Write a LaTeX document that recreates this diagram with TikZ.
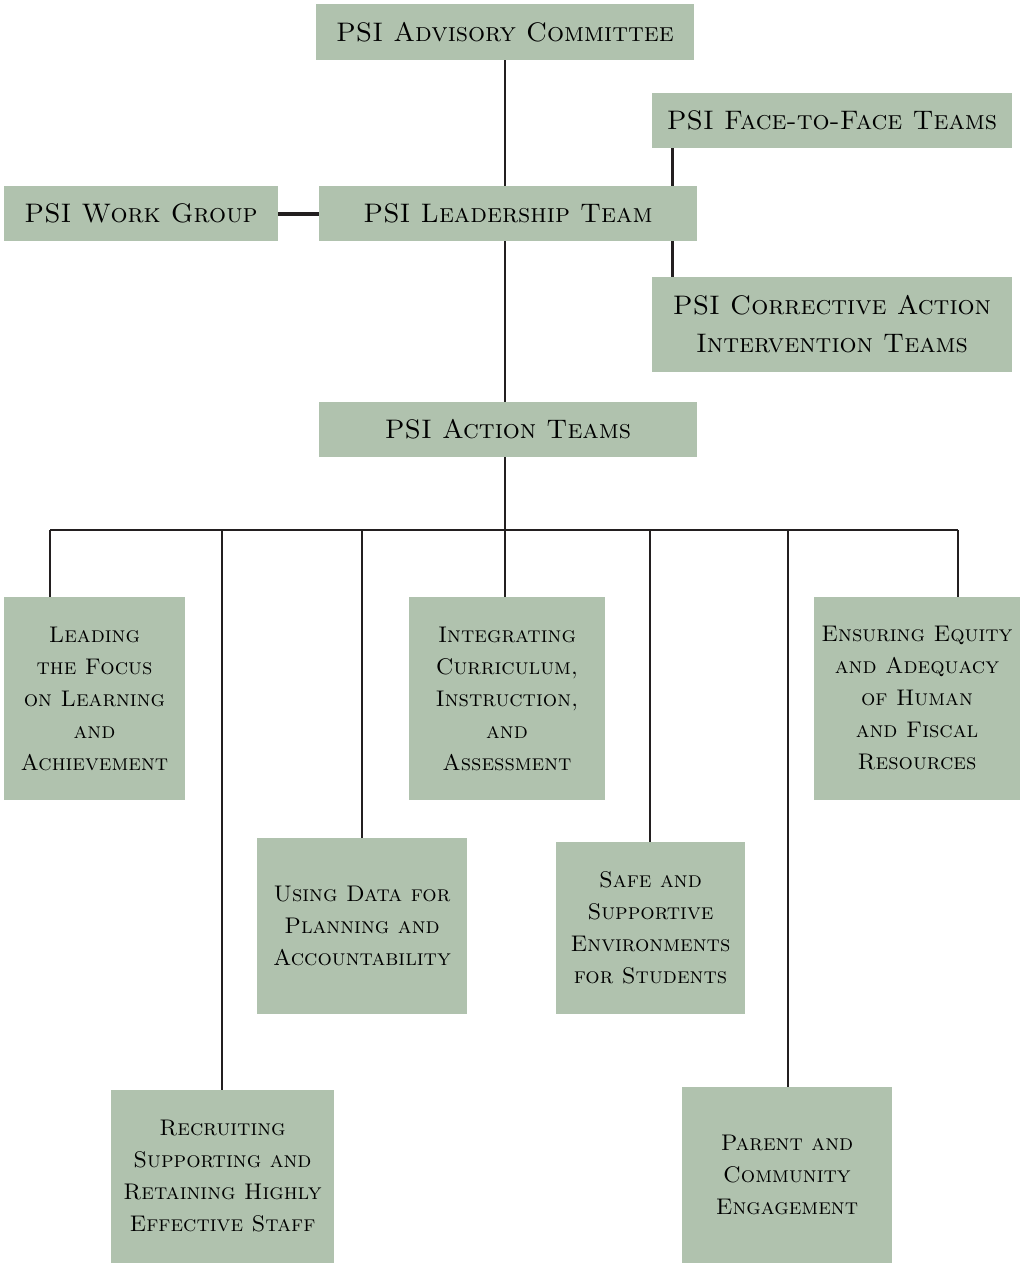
\documentclass[tikz,border=0pt]{standalone}
\usepackage{tikz}
\usetikzlibrary{positioning,calc}
\definecolor{boxfill}{HTML}{B0C2AE}
\definecolor{linegray}{HTML}{231F20}

\begin{document}
\begin{tikzpicture}[
  x=0.5pt, y=-0.5pt,
  team/.style={fill=boxfill, inner sep=0pt, align=center, font=\fontsize{13.4}{19}\selectfont\scshape},
  action/.style={fill=boxfill, inner sep=0pt, align=center, font=\fontsize{11.3}{16}\selectfont\scshape},
  link/.style={draw=linegray, line width=1.3pt}
]
  \useasboundingbox (0,0) rectangle (1021,1264);

  % upper chain
  \node[team, minimum width=189pt, minimum height=28pt] (advisory) at (505,32) {PSI Advisory Committee};
  \node[team, minimum width=189pt, minimum height=27.5pt] (leadership) at (508,213.5) {PSI Leadership Team};
  \node[team, minimum width=137pt, minimum height=27.5pt] (workgroup) at (141,213.5) {PSI Work Group};
  \node[team, minimum width=180pt, minimum height=27.5pt] (facetoface) at (832,120.5) {PSI Face-to-Face Teams};
  \node[team, minimum width=180pt, minimum height=47.5pt] (corrective) at (832,324.5) {PSI Corrective Action\\Intervention Teams};
  \node[team, minimum width=189pt, minimum height=27.5pt] (actionteams) at (508,429.5) {PSI Action Teams};

  % action teams
  \node[action, minimum width=90.5pt, minimum height=101.5pt] (leading) at (94.5,698.5) {Leading\\the Focus\\on Learning\\and\\Achievement};
  \node[action, minimum width=98pt, minimum height=101.5pt] (integrating) at (507,698.5) {Integrating\\Curriculum,\\Instruction,\\and\\Assessment};
  \node[action, minimum width=103pt, minimum height=101.5pt] (ensuring) at (917,698.5) {Ensuring Equity\\and Adequacy\\of Human\\and Fiscal\\Resources};
  \node[action, minimum width=105pt, minimum height=88pt] (usingdata) at (362,926) {Using Data for\\Planning and\\Accountability};
  \node[action, minimum width=94.5pt, minimum height=86pt] (safe) at (650.5,928) {Safe and\\Supportive\\Environments\\for Students};
  \node[action, minimum width=111.5pt, minimum height=86.5pt] (recruiting) at (222.5,1176.5) {Recruiting\\Supporting and\\Retaining Highly\\Effective Staff};
  \node[action, minimum width=105pt, minimum height=88pt] (parent) at (787,1175) {Parent and\\Community\\Engagement};

  \draw[link] (advisory) -- (advisory |- leadership.north);
  \draw[link, line width=2pt] (workgroup) -- (leadership);
  \draw[link] ([xshift=10.5pt]facetoface.south west) -- ([xshift=10.5pt]facetoface.south west |- leadership.north);
  \draw[link] ([xshift=10.5pt]facetoface.south west |- leadership.south) -- ([xshift=10.5pt]facetoface.south west |- corrective.north);
  \draw[link] (advisory |- leadership.south) -- (advisory |- actionteams.north);

  \coordinate (bus) at (505,530);
  \draw[link] (advisory |- actionteams.south) -- (bus);
  \draw[link] (50,530) -- (958,530);
  \foreach \xpos/\target in {50/leading, 222/recruiting, 362/usingdata, 505/integrating, 650/safe, 788/parent, 958/ensuring}
    \draw[link] (\xpos,530) -- (\xpos,0 |- \target.north);
\end{tikzpicture}
\end{document}
